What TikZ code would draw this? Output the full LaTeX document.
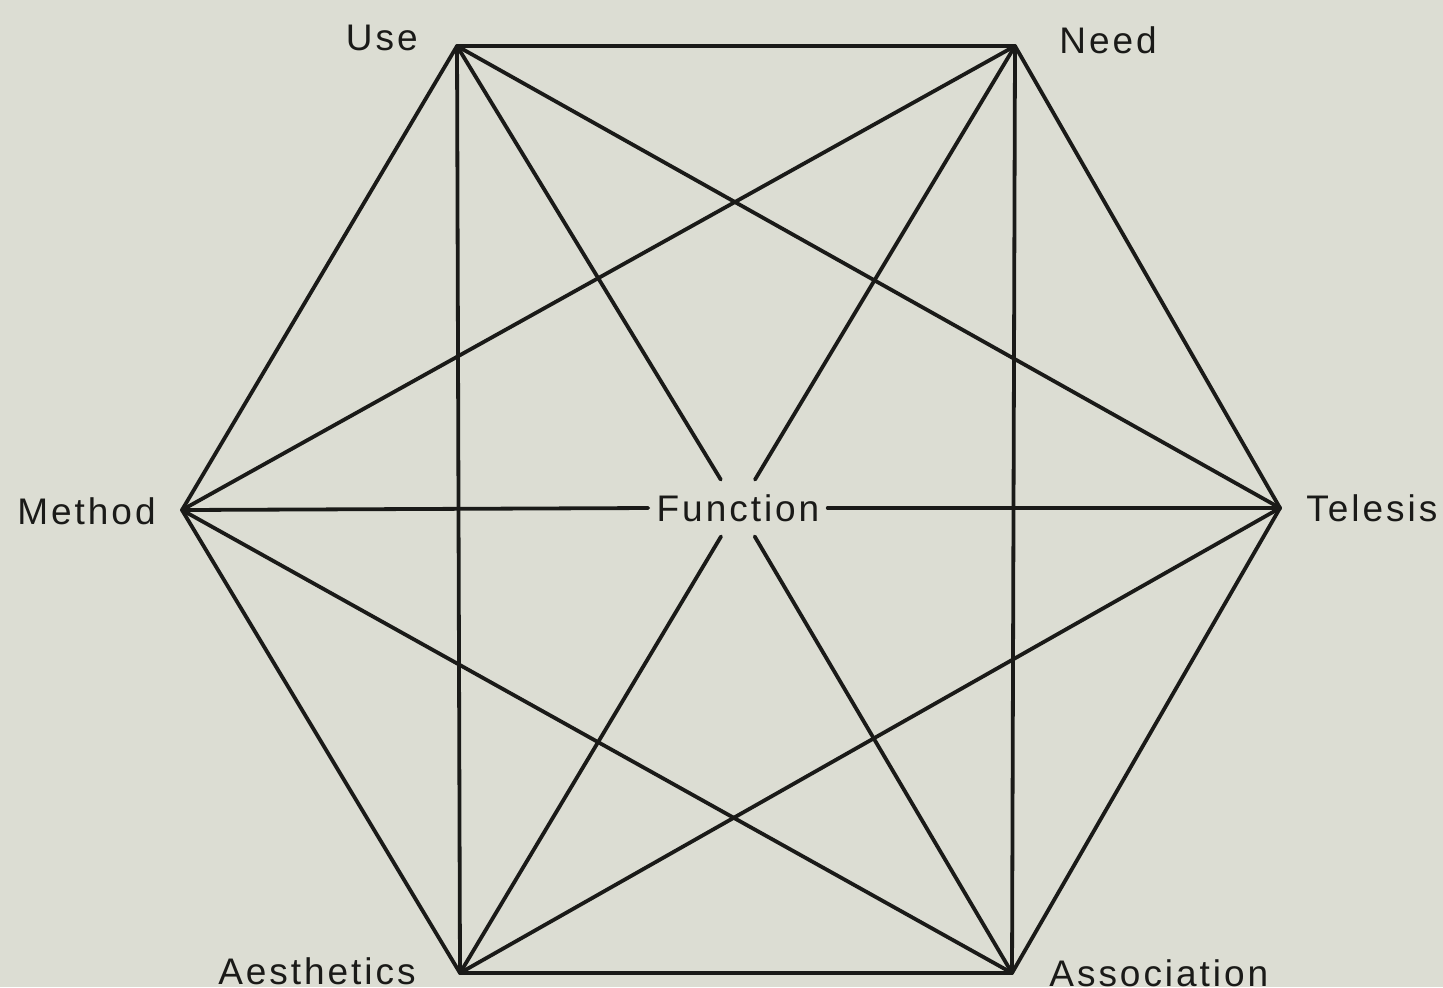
\documentclass[tikz,border=0pt]{standalone}
\usepackage{fontspec}
\setmainfont{Liberation Sans}[LetterSpace=8]
\definecolor{paper}{RGB}{220,221,211}
\definecolor{ink}{RGB}{26,26,24}
\begin{document}
\begin{tikzpicture}[x=0.5pt,y=-0.5pt,
  edge/.style={draw=ink,line width=1.9pt,line cap=round,line join=round},
  lbl/.style={text=ink,font=\fontsize{18.5}{20}\selectfont,inner sep=0pt},
  centre/.style={text=ink,font=\fontsize{18.5}{20}\selectfont,rectangle,inner xsep=4pt,inner ysep=0pt,minimum height=28pt}]
\fill[paper] (0,0) rectangle (1443,987);
\useasboundingbox (0,0) rectangle (1443,987);
% vertices
\coordinate (U) at (457,46);
\coordinate (N) at (1015,46);
\coordinate (T) at (1280,508);
\coordinate (As) at (1012,973);
\coordinate (Ae) at (460,973);
\coordinate (M) at (182,510);
% centre label
\node[centre] (F) at (738,508) {Function};
% outer hexagon
\draw[edge] (U) -- (N) -- (T) -- (As) -- (Ae) -- (M) -- cycle;
% chords not through centre
\draw[edge] (U) -- (T);
\draw[edge] (U) -- (Ae);
\draw[edge] (N) -- (M);
\draw[edge] (N) -- (As);
\draw[edge] (M) -- (As);
\draw[edge] (T) -- (Ae);
% diameters broken by the centre label
\draw[edge] (U) -- (F);
\draw[edge] (F) -- (As);
\draw[edge] (N) -- (F);
\draw[edge] (F) -- (Ae);
\draw[edge] (M) -- (F.west);
\draw[edge] (F.east) -- (T);
% vertex labels
\node[lbl,anchor=east] (lU) at (418,38) {Use};
\node[lbl,anchor=west] (lN) at (1059,40) {Need};
\node[lbl,anchor=west] (lT) at (1306,508) {Telesis};
\node[lbl,anchor=east] (lM) at (156,511) {Method};
\node[lbl,anchor=east] (lAe) at (416,971) {Aesthetics};
\node[lbl,anchor=west] (lAs) at (1049,973) {Association};
\end{tikzpicture}
\end{document}
